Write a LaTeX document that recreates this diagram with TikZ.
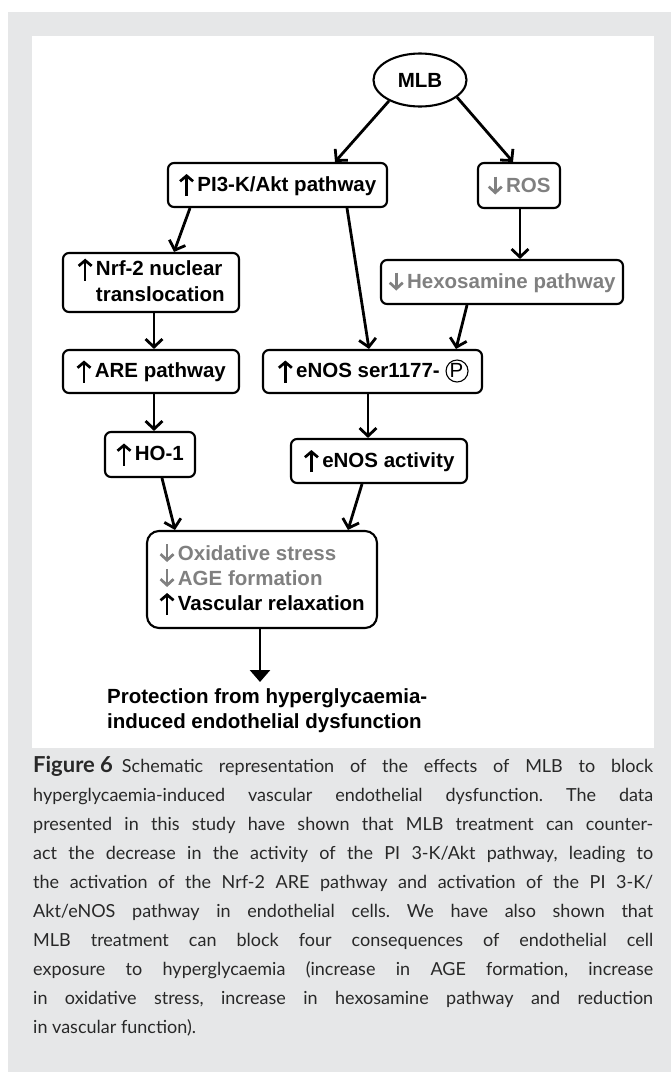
\documentclass[tikz,border=0pt]{standalone}
\usepackage{fontspec}
\setsansfont{Liberation Sans}
\newfontfamily\capfont{Lato}
\usetikzlibrary{arrows.meta,shapes.geometric,calc}
\definecolor{bggray}{RGB}{230,231,232}
\definecolor{txtgray}{RGB}{128,128,128}
\definecolor{captxt}{RGB}{40,40,40}
\newcommand\upa{\tikz[baseline=0pt]\draw[black,line width=2.7pt,-{Straight Barb[length=5.5pt,width=13pt]}] (0pt,-5pt) -- (0pt,17pt);\hspace{3pt}}
\newcommand\dna{\tikz[baseline=0pt]\draw[txtgray,line width=2.7pt,-{Straight Barb[length=6pt,width=13pt]}] (0pt,16pt) -- (0pt,-2pt);\hspace{3pt}}
\newcommand\circP{\mbox{\rlap{\tikz[baseline=0pt]\draw[line width=1.1pt] (11pt,6.5pt) circle[radius=11pt];}\makebox[22pt]{\mdseries P}}}
\tikzset{
  dfont/.style={font=\sffamily\bfseries\fontsize{20.5}{24}\selectfont},
  box/.style={draw=black, line width=2.1pt, rounded corners=6pt, fill=white, inner sep=2pt, align=center, dfont},
  conn/.style={line width=2.8pt, -{Straight Barb[length=8pt,width=17pt]}},
  fin/.style={line width=2.8pt, -{Triangle[length=12pt,width=20pt]}}
}
\begin{document}
\begin{tikzpicture}[x=1pt,y=-1pt]
\useasboundingbox (0,0) rectangle (671,1072);
\fill[bggray] (8,12) rectangle (671,1072);
\fill[white] (32,36) rectangle (654,748);
% nodes
\node[draw, ellipse, line width=2.1pt, minimum width=93pt, minimum height=53pt, inner sep=0pt, fill=white, dfont] (mlb) at (420,80) {MLB};
\node[box, minimum width=219pt, minimum height=44pt] (pi) at (277.5,185) {\upa PI3-K/Akt pathway};
\node[box, minimum width=82pt, minimum height=45pt] (ros) at (519,185.5) {\dna\textcolor{txtgray}{ROS}};
\node[box, minimum width=176pt, minimum height=59pt, align=left] (nrf) at (151,282.5) {\upa Nrf-2 nuclear\\\phantom{\upa}translocation};
\node[box, minimum width=242pt, minimum height=44pt] (hex) at (502,282) {\dna\textcolor{txtgray}{Hexosamine pathway}};
\node[box, minimum width=176pt, minimum height=43pt] (are) at (151,371.5) {\upa ARE pathway};
\node[box, minimum width=219pt, minimum height=43pt] (enos) at (372.5,371.5) {\upa eNOS ser1177- \circP};
\node[box, minimum width=90pt, minimum height=45pt] (ho) at (150,454.5) {\upa HO-1};
\node[box, minimum width=176pt, minimum height=44pt] (act) at (379,461) {\upa eNOS activity};
\node[box, rounded corners=12pt, minimum width=230pt, minimum height=97pt, align=left, font=\sffamily\bfseries\fontsize{20.5}{25}\selectfont] (bot) at (262,579.5) {\dna\textcolor{txtgray}{Oxidative stress}\\\dna\textcolor{txtgray}{AGE formation}\\\upa Vascular relaxation};
\node[anchor=north west, inner sep=0pt, align=left, font=\sffamily\bfseries\fontsize{20.5}{25}\selectfont] (prot) at (107,688) {Protection from hyperglycaemia-\\induced endothelial dysfunction};
% connectors
\draw[conn] (mlb.214) -- ($(pi.north)+(57.5,0)$);
\draw[conn] (mlb.335) -- ($(ros.north)+(-6,0)$);
\draw[conn] ($(pi.south)+(-87.5,0)$) -- ($(nrf.north)+(23,0)$);
\draw[conn] ($(pi.south)+(69.5,0)$) -- ($(enos.north)+(-3.5,0)$);
\draw[conn] ($(ros.south)+(1,0)$) -- ($(hex.north)+(18,0)$);
\draw[conn] ($(hex.south)+(-35,0)$) -- ($(enos.north)+(83.5,0)$);
\draw[conn] ($(nrf.south)+(3,0)$) -- ($(are.north)+(3,0)$);
\draw[conn] ($(are.south)+(3,0)$) -- ($(ho.north)+(4,0)$);
\draw[conn] ($(enos.south)+(-4.5,0)$) -- ($(act.north)+(-11,0)$);
\draw[conn] ($(ho.south)+(12,0)$) -- ($(bot.north)+(-87,0)$);
\draw[conn] ($(act.south)+(-17,0)$) -- ($(bot.north)+(86,0)$);
\draw[fin] ($(bot.south)+(-2,0)$) -- ($(bot.south |- prot.north)+(-2,-6)$);
% caption
\node[anchor=north west, inner sep=0pt, text width=620pt, align=justify, text=captxt, font=\capfont\fontsize{18}{29}\selectfont] (cap) at (33,756) {\frenchspacing\hyphenpenalty=10000\tolerance=9999\mbox{\bfseries\fontsize{22}{29}\selectfont Figure 6}\hspace{0.5em}Schematic representation of the effects of MLB to block\linebreak hyperglycaemia-induced vascular endothelial dysfunction. The data\linebreak presented in this study have shown that MLB treatment can counter-\linebreak act the decrease in the activity of the PI 3-K/Akt pathway, leading to\linebreak the activation of the Nrf-2 ARE pathway and activation of the PI 3-K/\linebreak Akt/eNOS pathway in endothelial cells. We have also shown that\linebreak MLB treatment can block four consequences of endothelial cell\linebreak exposure to hyperglycaemia (increase in AGE formation, increase\linebreak in oxidative stress, increase in hexosamine pathway and reduction\linebreak in vascular function).};
\end{tikzpicture}
\end{document}
